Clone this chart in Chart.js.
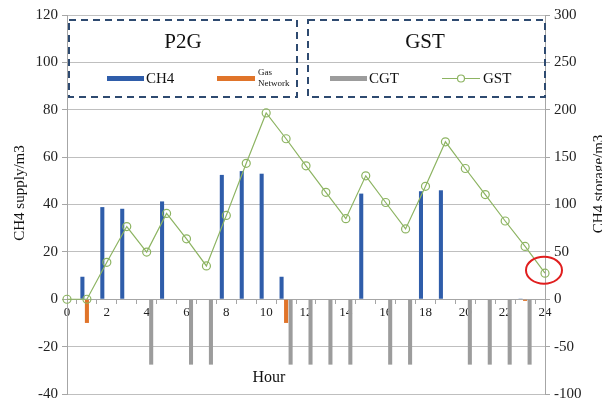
<!DOCTYPE html>
<html>
<head>
<meta charset="utf-8">
<script src="https://cdn.jsdelivr.net/npm/chart.js@4.4.0/dist/chart.umd.min.js"></script>
<style>
  html, body { margin: 0; padding: 0; background: #fff; }
  #wrap { width: 602px; height: 407px; }
</style>
</head>
<body>
<div id="wrap"><canvas id="chart"></canvas></div>
<script>
const hours = ["0","1","2","3","4","5","6","7","8","9","10","11","12","13","14","15","16","17","18","19","20","21","22","23","24"];
const ch4Supply = [0, 9.5, 38.9, 38.2, 0, 41.3, 0, 0, 52.5, 54.1, 53, 9.5, 0, 0, 0, 44.6, 0, 0, 45.6, 46, 0, 0, 0, 0.3, 0];
const gasNetwork = [0, -10, 0, 0, 0, 0, 0, 0, 0, 0, 0, -10, 0, 0, 0, 0, 0, 0, 0, 0, 0, 0, 0, -0.7, 0];
const cgtSupply = [0, 0, 0, 0, -27.6, 0, -27.6, -27.6, 0, 0, 0, -27.6, -27.6, -27.6, -27.6, 0, -27.6, -27.6, 0, 0, -27.6, -27.6, -27.6, -27.6, 0];
const gstStorage = [0, 0, 39, 76.7, 49.8, 90.6, 63.8, 35.2, 88.5, 143.5, 196.6, 169.4, 140.8, 112.9, 85, 130.3, 102.1, 74.2, 119.2, 166.2, 138, 110.5, 82.6, 55.7, 27.5];

const serif = "'Liberation Serif', 'Times New Roman', serif";
const blue = "#2F5DAA";
const orange = "#E0742A";
const grey = "#9C9C9C";
const green = "#8DB462";

// legend boxes, axis titles and the red mark are drawn on top of the chart
const extras = {
  id: "extras",
  afterDraw(chart) {
    const ctx = chart.ctx;
    const y2 = chart.scales.y2;
    const x = chart.scales.x;
    ctx.save();

    ctx.strokeStyle = "#2E4A70";
    ctx.lineWidth = 2;
    ctx.setLineDash([7, 5]);
    ctx.strokeRect(69, 20, 228, 77);
    ctx.strokeRect(308, 20, 237, 77);
    ctx.setLineDash([]);

    ctx.fillStyle = "#111";
    ctx.textAlign = "center";
    ctx.textBaseline = "middle";
    ctx.font = "21px " + serif;
    ctx.fillText("P2G", 183, 42);
    ctx.fillText("GST", 425, 42);

    ctx.fillStyle = blue;
    ctx.fillRect(107, 76, 37, 5);
    ctx.fillStyle = orange;
    ctx.fillRect(217, 76, 38, 5);
    ctx.fillStyle = grey;
    ctx.fillRect(330, 76, 37, 5);
    ctx.strokeStyle = green;
    ctx.lineWidth = 1.2;
    ctx.beginPath();
    ctx.moveTo(442, 78.5);
    ctx.lineTo(480, 78.5);
    ctx.stroke();
    ctx.fillStyle = "#fff";
    ctx.beginPath();
    ctx.arc(461, 78.5, 3.5, 0, Math.PI * 2);
    ctx.fill();
    ctx.stroke();

    ctx.fillStyle = "#111";
    ctx.textAlign = "left";
    ctx.font = "15px " + serif;
    ctx.fillText("CH4", 146, 79);
    ctx.fillText("CGT", 369, 79);
    ctx.fillText("GST", 483, 79);
    ctx.font = "9px " + serif;
    ctx.fillText("Gas", 258, 73);
    ctx.fillText("Network", 258, 84);

    ctx.textAlign = "center";
    ctx.font = "16px " + serif;
    ctx.fillText("Hour", 269, 378);

    ctx.font = "15px " + serif;
    ctx.translate(20, 193);
    ctx.rotate(-Math.PI / 2);
    ctx.fillText("CH4 supply/m3", 0, 0);
    ctx.setTransform(1, 0, 0, 1, 0, 0);
    ctx.translate(599, 184);
    ctx.rotate(-Math.PI / 2);
    ctx.fillText("CH4 storage/m3", 0, 0);
    ctx.setTransform(1, 0, 0, 1, 0, 0);

    const last = gstStorage.length - 1;
    ctx.strokeStyle = "#E01E1E";
    ctx.lineWidth = 2;
    ctx.beginPath();
    ctx.ellipse(x.getPixelForValue(last) - 1, y2.getPixelForValue(gstStorage[last]) - 3, 18, 13.5, 0, 0, Math.PI * 2);
    ctx.stroke();

    ctx.restore();
  }
};

new Chart(document.getElementById("chart"), {
  type: "bar",
  data: {
    labels: hours,
    datasets: [
      {
        label: "CH4",
        data: ch4Supply,
        backgroundColor: blue,
        yAxisID: "y",
        order: 1,
      },
      {
        label: "Gas Network",
        data: gasNetwork,
        backgroundColor: orange,
        yAxisID: "y",
        order: 1,
      },
      {
        label: "CGT",
        data: cgtSupply,
        backgroundColor: grey,
        yAxisID: "y",
        order: 1,
      },
      {
        type: "line",
        label: "GST",
        data: gstStorage,
        yAxisID: "y2",
        borderColor: green,
        borderWidth: 1.2,
        pointRadius: 4,
        pointBorderWidth: 1.2,
        pointBackgroundColor: "rgba(255,255,255,0)",
        pointBorderColor: green,
        tension: 0,
        order: 0,
      },
    ],
  },
  options: {
    responsive: true,
    maintainAspectRatio: false,
    animation: false,
    categoryPercentage: 0.68,
    barPercentage: 0.9,
    layout: { padding: { top: 15, bottom: 12, left: 0, right: 0 } },
    plugins: {
      legend: { display: false },
      tooltip: { enabled: false },
    },
    scales: {
      x: {
        type: "category",
        offset: false,
        position: { y: 0 },
        grid: { drawOnChartArea: false, drawTicks: true, tickLength: 4, tickColor: "#A6A6A6" },
        border: { display: true, color: "#A6A6A6" },
        ticks: {
          autoSkip: false,
          maxRotation: 0,
          padding: 2,
          color: "#222",
          font: { family: serif, size: 13 },
          callback: (v, i) => (i % 2 === 0 ? hours[i] : ""),
        },
      },
      y: {
        position: "left",
        min: -40,
        max: 120,
        afterFit: (s) => { s.width = 67; },
        grid: { color: "#BFBFBF", tickLength: 5, tickColor: "#A6A6A6" },
        border: { color: "#A6A6A6" },
        ticks: { stepSize: 20, padding: 4, color: "#222", font: { family: serif, size: 15 } },
      },
      y2: {
        position: "right",
        min: -100,
        max: 300,
        afterFit: (s) => { s.width = 57; },
        grid: { drawOnChartArea: false, tickLength: 5, tickColor: "#A6A6A6" },
        border: { color: "#A6A6A6" },
        ticks: { stepSize: 50, padding: 4, color: "#222", font: { family: serif, size: 15 } },
      },
    },
  },
  plugins: [extras],
});
</script>
</body>
</html>
